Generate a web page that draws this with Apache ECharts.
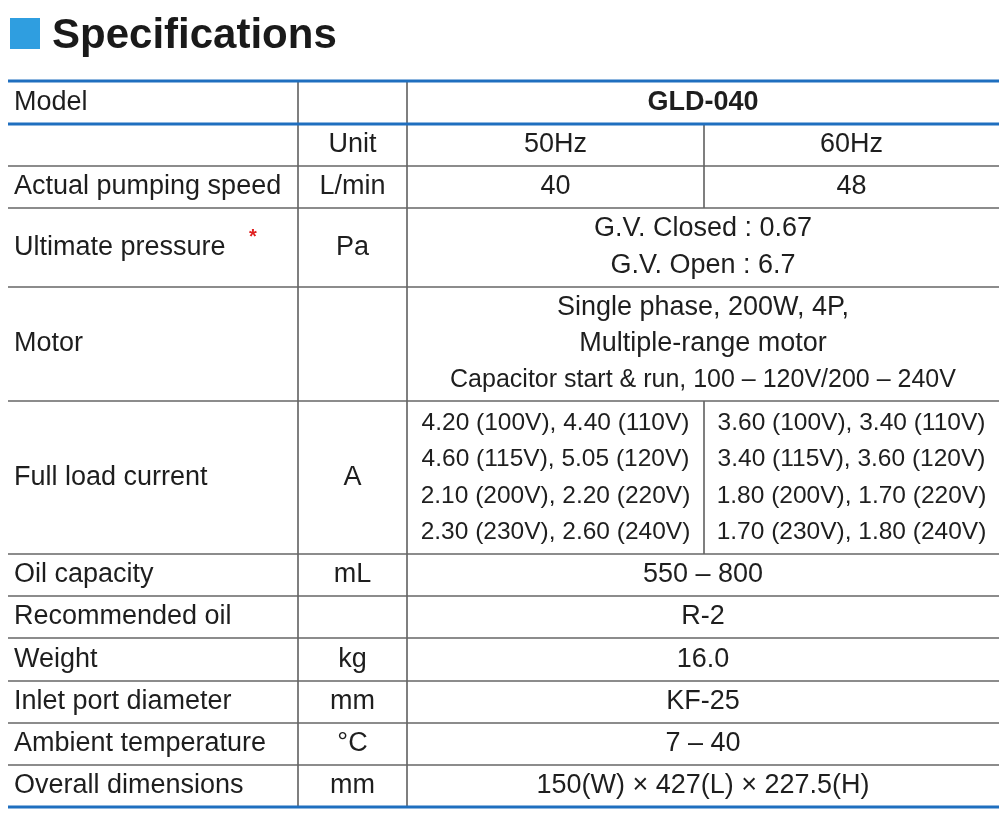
<!DOCTYPE html>
<html><head><meta charset="utf-8">
<script src="https://cdn.jsdelivr.net/npm/echarts@6/dist/echarts.min.js"></script>
<style>html,body{margin:0;padding:0;background:#fff}#c{width:1000px;height:823px}</style>
</head><body><div id="c"></div>
<script>
const title = "Specifications";
const labels = ["Model","","Actual pumping speed","Ultimate pressure","Motor","Full load current","Oil capacity","Recommended oil","Weight","Inlet port diameter","Ambient temperature","Overall dimensions"];
const units = ["","Unit","L/min","Pa","","A","mL","","kg","mm","°C","mm"];
const hz50Rows = [null,["50Hz"],["40"],null,null,["4.20 (100V), 4.40 (110V)","4.60 (115V), 5.05 (120V)","2.10 (200V), 2.20 (220V)","2.30 (230V), 2.60 (240V)"],null,null,null,null,null,null];
const hz60Rows = [null,["60Hz"],["48"],null,null,["3.60 (100V), 3.40 (110V)","3.40 (115V), 3.60 (120V)","1.80 (200V), 1.70 (220V)","1.70 (230V), 1.80 (240V)"],null,null,null,null,null,null];
const merged = [["GLD-040"],null,null,["G.V. Closed : 0.67","G.V. Open : 6.7"],["Single phase, 200W, 4P,","Multiple-range motor","Capacitor start & run, 100 – 120V/200 – 240V"],null,["550 – 800"],["R-2"],["16.0"],["KF-25"],["7 – 40"],["150(W) × 427(L) × 227.5(H)"]];
const rowEdges = [81,124,166,208,287,401,554,596,638,681,723,765,807];
const colEdges = [8,298,407,704,999];

const chart = echarts.init(document.getElementById('c'));
const g = [];
const F = "Liberation Sans";
const txt = (x,y,s,align,size,weight,lh) => ({type:'text',x,y,style:{text:s,fill:'#1e1e1e',fontFamily:F,fontSize:size||27,fontWeight:weight||'normal',align:align||'center',verticalAlign:'middle'}});
g.push({type:'rect',shape:{x:10,y:18,width:30,height:31},style:{fill:'#2f9ee0'}});
g.push({type:'text',x:52,y:36,style:{text:title,fill:'#1a1a1a',fontFamily:F,fontSize:42,fontWeight:'bold',verticalAlign:'middle'}});
for(let i=0;i<labels.length;i++){
  const y0=rowEdges[i], y1=rowEdges[i+1], cy=(y0+y1)/2;
  if(labels[i]) g.push(txt(14,cy,labels[i],'left',27));
  if(i===3) g.push({type:'text',x:249,y:cy-10,style:{text:'*',fill:'#e02020',fontFamily:F,fontSize:20,fontWeight:'bold',align:'left',verticalAlign:'middle'}});
  if(units[i]) g.push(txt((colEdges[1]+colEdges[2])/2,cy,units[i],'center',27));
  const lines=(arr,x0,x1,bold)=>{const n=arr.length;const lh=n===4?36.5:(n===3?36:37);arr.forEach((s,k)=>g.push(txt((x0+x1)/2,cy+(k-(n-1)/2)*lh,s,'center',n===4?24.5:((n===3&&k===2)?25:27),bold?'bold':'normal')));};
  if(merged[i]) lines(merged[i],colEdges[2],colEdges[4],i===0);
  if(hz50Rows[i]) lines(hz50Rows[i],colEdges[2],colEdges[3]);
  if(hz60Rows[i]) lines(hz60Rows[i],colEdges[3],colEdges[4]);
  const vx=[colEdges[1],colEdges[2]]; if(hz50Rows[i]) vx.push(colEdges[3]);
  vx.forEach(x=>g.push({type:'line',shape:{x1:x,y1:y0,x2:x,y2:y1},style:{stroke:'#555',lineWidth:1.5}}));
}
rowEdges.forEach((y,i)=>{
  const blue = i===0||i===1||i===rowEdges.length-1;
  g.push({type:'line',shape:{x1:colEdges[0],y1:y,x2:colEdges[4],y2:y},style:{stroke:blue?'#1f6fbf':'#666',lineWidth:blue?3:1.5}});
});
chart.setOption({animation:false,graphic:{elements:g}});
</script></body></html>
